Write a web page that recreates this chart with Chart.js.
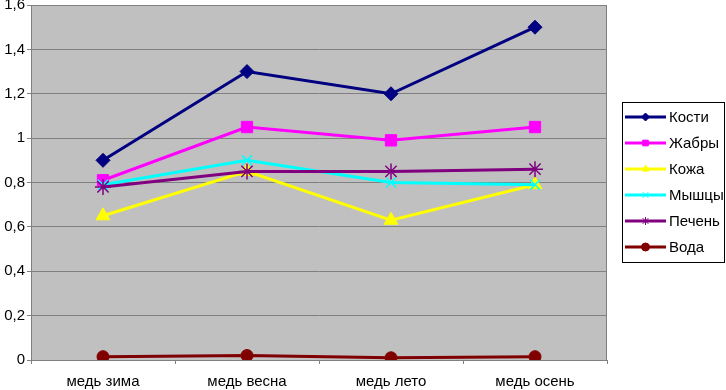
<!DOCTYPE html>
<html>
<head>
<meta charset="utf-8">
<script src="https://cdn.jsdelivr.net/npm/chart.js@4"></script>
<style>
  html, body { margin: 0; padding: 0; background: #fff; }
  #wrap { width: 726px; height: 390px; position: relative; }
</style>
</head>
<body>
<div id="wrap"><canvas id="c"></canvas></div>
<script>
const categories = ['медь зима', 'медь весна', 'медь лето', 'медь осень']
const seriesNames = ['Кости', 'Жабры', 'Кожа', 'Мышцы', 'Печень', 'Вода']
const kosti = [0.90, 1.30, 1.20, 1.50]
const zhabry = [0.81, 1.05, 0.99, 1.05]
const kozha = [0.65, 0.85, 0.63, 0.79]
const myshcy = [0.79, 0.90, 0.80, 0.79]
const pechen = [0.78, 0.85, 0.85, 0.86]
const voda = [0.015, 0.02, 0.01, 0.015]
const yTicks = [0, 0.2, 0.4, 0.6, 0.8, 1, 1.2, 1.4, 1.6]

const values = [kosti, zhabry, kozha, myshcy, pechen, voda]
const colors = ['#000080', '#FF00FF', '#FFFF00', '#00FFFF', '#800080', '#800000']
const markers = ['rectRot', 'rect', 'triangle', 'crossRot', 'star', 'circle']
const radii = [7, 8, 8, 7, 8, 6]
const FONT = '"Liberation Sans", Arial, sans-serif'

const datasets = seriesNames.map(function (name, i) {
  const thin = markers[i] === 'crossRot' || markers[i] === 'star'
  return {
    label: name,
    data: values[i],
    borderColor: colors[i],
    backgroundColor: colors[i],
    borderWidth: 3,
    pointStyle: markers[i],
    pointRadius: radii[i],
    pointBorderWidth: thin ? 1.5 : 1,
    pointBorderColor: colors[i],
    pointBackgroundColor: colors[i],
    order: seriesNames.length - i,
    tension: 0
  }
})

// gray plot area + border
const plotBg = {
  id: 'plotBg',
  beforeDraw (chart) {
    const a = chart.chartArea
    const ctx = chart.ctx
    ctx.save()
    ctx.fillStyle = '#C0C0C0'
    ctx.fillRect(a.left, a.top, a.right - a.left, a.bottom - a.top)
    ctx.restore()
  },
  afterDatasetsDraw (chart) {
    const a = chart.chartArea
    const ctx = chart.ctx
    ctx.save()
    ctx.strokeStyle = '#808080'
    ctx.lineWidth = 1
    ctx.beginPath()
    ctx.moveTo(a.left + 0.5, a.top + 0.5)
    ctx.lineTo(a.right - 0.5, a.top + 0.5)
    ctx.lineTo(a.right - 0.5, a.bottom)
    ctx.stroke()
    ctx.restore()
  }
}

// legend box on the right, Excel style
const boxLegend = {
  id: 'boxLegend',
  afterDraw (chart) {
    const ctx = chart.ctx
    const x0 = 622, y0 = 102, w = 102, h = 160
    ctx.save()
    ctx.fillStyle = '#fff'
    ctx.fillRect(x0, y0, w, h)
    ctx.strokeStyle = '#000'
    ctx.lineWidth = 1
    ctx.strokeRect(x0 + 0.5, y0 + 0.5, w, h)
    ctx.font = '15px ' + FONT
    ctx.textBaseline = 'middle'
    chart.data.datasets.forEach(function (ds, i) {
      const y = 117 + i * 26
      ctx.strokeStyle = ds.borderColor
      ctx.lineWidth = 3
      ctx.beginPath()
      ctx.moveTo(625, y)
      ctx.lineTo(666, y)
      ctx.stroke()
      ctx.fillStyle = ds.borderColor
      ctx.lineWidth = 1
      Chart.helpers.drawPoint(ctx, { pointStyle: ds.pointStyle, radius: 4, rotation: 0, borderWidth: 1 }, 645.5, y)
      ctx.fillStyle = '#000'
      ctx.fillText(ds.label, 669, y + 1)
    })
    ctx.restore()
  }
}

const chart = new Chart(
  document.getElementById('c').getContext('2d'),
  {
    type: 'line',
    data: {
      labels: categories,
      datasets: datasets
    },
    options: {
      responsive: true,
      maintainAspectRatio: false,
      animation: false,
      layout: {
        autoPadding: false,
        padding: { left: 0, right: 119, top: 5, bottom: 0 }
      },
      scales: {
        x: {
          offset: true,
          afterFit: function (scale) {
            scale.height = 30
            scale.paddingLeft = 0
            scale.paddingRight = 0
          },
          grid: {
            offset: true,
            drawOnChartArea: false,
            drawTicks: true,
            tickLength: 4,
            color: '#808080'
          },
          border: { color: '#808080', width: 1 },
          ticks: {
            color: '#000',
            padding: 9,
            maxRotation: 0,
            font: { family: FONT, size: 15 }
          }
        },
        y: {
          min: 0,
          max: 1.6,
          afterFit: function (scale) {
            scale.width = 31
            scale.paddingTop = 0
            scale.paddingBottom = 0
          },
          afterBuildTicks: function (scale) {
            scale.ticks = yTicks.map(function (v) { return { value: v } })
          },
          grid: {
            color: '#808080',
            tickLength: 4,
            lineWidth: 1
          },
          border: { color: '#808080', width: 1 },
          ticks: {
            color: '#000',
            padding: 2,
            font: { family: FONT, size: 15 },
            callback: function (value) {
              return String(Math.round(value * 10) / 10).replace('.', ',')
            }
          }
        }
      },
      plugins: {
        legend: { display: false },
        tooltip: { enabled: false },
        title: { display: false }
      }
    },
    plugins: [plotBg, boxLegend]
  }
)
</script>
</body>
</html>
